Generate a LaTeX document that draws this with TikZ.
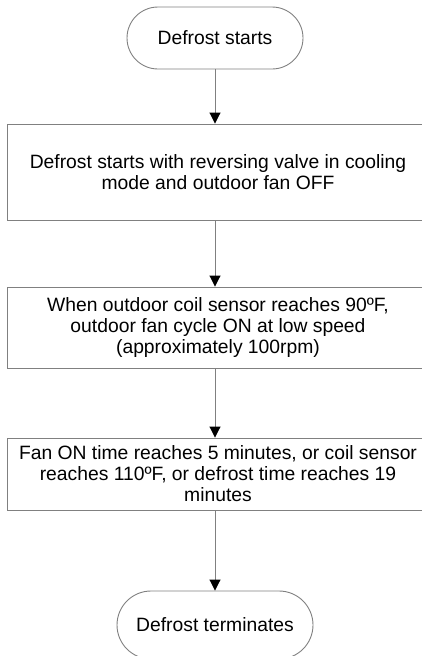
\documentclass[tikz,border=0pt]{standalone}
\usepackage{fontspec}
\setmainfont{Liberation Sans}
\usetikzlibrary{arrows.meta}
\definecolor{edgegray}{RGB}{128,128,128}
\begin{document}
\begin{tikzpicture}[x=1pt,y=1pt,
  every node/.style={font=\fontsize{19.3}{21}\selectfont, text=black, align=center, inner sep=0pt},
  terminal/.style={draw=edgegray, line width=0.9pt, rectangle, rounded corners=#1},
  stepbox/.style={draw=edgegray, line width=0.9pt, rectangle},
  flow/.style={draw=edgegray, line width=0.9pt, -{Triangle[length=11pt,width=11pt,fill=black,color=black]}}
]
\useasboundingbox (0,0) rectangle (422,-656);
\clip (0,0) rectangle (422,-656);

\node[terminal=31pt, minimum width=176pt, minimum height=62pt] (start) at (215,-38) {Defrost starts};

\node[stepbox, minimum width=422pt, minimum height=96pt] (s1) at (218,-172)
  {Defrost starts with reversing valve in cooling\\mode and outdoor fan OFF};

\node[stepbox, minimum width=422pt, minimum height=81pt] (s2) at (218,-327.5)
  {When outdoor coil sensor reaches 90ºF,\\outdoor fan cycle ON at low speed\\(approximately 100rpm)};

\node[stepbox, minimum width=422pt, minimum height=72pt] (s3) at (218,-474)
  {Fan ON time reaches 5 minutes, or coil sensor\\reaches 110ºF, or defrost time reaches 19\\minutes};

\node[terminal=34pt, minimum width=196pt, minimum height=68pt] (stop) at (215,-625) {Defrost terminates};

\draw[flow] (start.south) -- (start.south |- s1.north);
\draw[flow] (start.south |- s1.south) -- (start.south |- s2.north);
\draw[flow] (start.south |- s2.south) -- (start.south |- s3.north);
\draw[flow] (start.south |- s3.south) -- (stop.north);
\end{tikzpicture}
\end{document}
